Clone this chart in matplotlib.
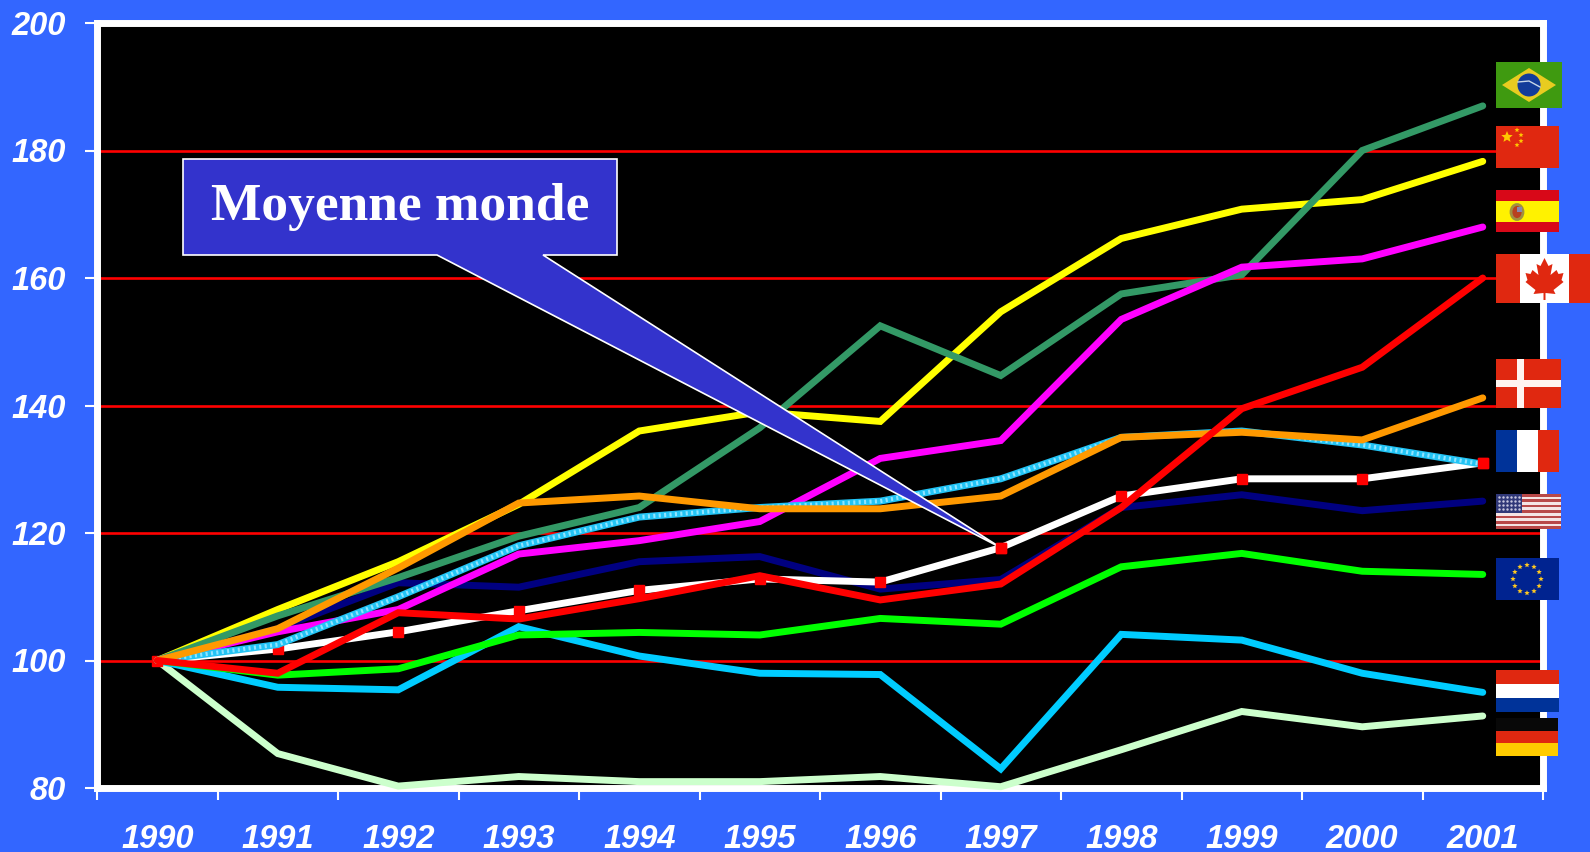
import numpy as np
import matplotlib
matplotlib.use("Agg")
import matplotlib.pyplot as plt
from matplotlib.patches import Circle, Ellipse, Polygon, Rectangle

years = ["1990", "1991", "1992", "1993", "1994", "1995", "1996", "1997", "1998", "1999", "2000", "2001"]
y_ticks = [80, 100, 120, 140, 160, 180, 200]

brazil = [100, 107, 113, 119.5, 124, 136.5, 152.5, 144.7, 157.5, 160.5, 180, 187]
china = [100, 108, 115.5, 124.5, 136, 139, 137.5, 154.7, 166.2, 170.8, 172.3, 178.3]
spain = [100, 104.5, 108, 116.7, 118.8, 121.8, 131.7, 134.5, 153.5, 161.7, 163, 168]
canada = [100, 98, 107.5, 106.5, 109.7, 113.3, 109.5, 112, 124, 139.5, 146, 160]
denmark = [100, 105, 114.5, 124.7, 125.8, 123.8, 123.8, 125.8, 135, 135.8, 134.6, 141.2]
france = [100, 102.5, 110, 118, 122.5, 124, 125, 128.5, 135, 136, 133.8, 130.8]
world = [100, 101.8, 104.5, 107.8, 111, 112.8, 112.3, 117.7, 125.8, 128.5, 128.5, 131]
usa = [100, 105, 112.2, 111.5, 115.5, 116.3, 111.2, 112.7, 124, 126, 123.5, 125]
europe = [100, 97.7, 98.7, 104, 104.4, 104, 106.6, 105.7, 114.7, 116.8, 114, 113.5]
netherlands = [100, 95.8, 95.4, 105.3, 100.7, 98, 97.8, 83, 104.1, 103.2, 98, 95]
germany = [100, 85.4, 80.3, 81.8, 81, 81, 81.8, 80.2, 86, 92, 89.6, 91.3]

BLUE = "#3366ff"
FLAG_RED = "#e02810"
W, H = 1590, 852

plt.rcParams["font.family"] = ["Liberation Sans", "DejaVu Sans"]

fig = plt.figure(figsize=(W / 100, H / 100), dpi=100, facecolor=BLUE)
ax = fig.add_axes([97 / W, (H - 788) / H, (1543 - 97) / W, (788 - 23) / H], facecolor="black")
x = np.arange(len(years))

for v in y_ticks[1:-1]:
    ax.axhline(v, color="#ff0000", lw=1.9, zorder=1)


def draw(values, color, z):
    ax.plot(x, values, color=color, lw=5, solid_capstyle="round", solid_joinstyle="miter",
            clip_on=False, zorder=z)


draw(germany, "#ccffcc", 3)
draw(netherlands, "#00ccff", 3.1)
draw(europe, "#00ff00", 3.2)
draw(usa, "#000080", 3.3)
draw(world, "#ffffff", 3.4)
ax.plot(x, world, ls="none", marker="s", ms=7, color="#ff0000", clip_on=False, zorder=3.45)
draw(china, "#ffff00", 3.5)
draw(brazil, "#339966", 3.9)
draw(spain, "#ff00ff", 4)
draw(france, "#22c4f5", 4.1)
ax.plot(x, france, color="#8fe4ff", lw=3, ls=(0, (0.5, 0.8)), clip_on=False, zorder=4.15)
draw(denmark, "#ff9900", 4.2)
ax.plot(x[-1:], world[-1:], ls="none", marker="s", ms=7, color="#ff0000", clip_on=False, zorder=4.3)
draw(canada, "#ff0000", 4.4)

ax.set_xlim(-0.5, 11.5)
ax.set_ylim(80, 200)
ax.set_xticks(np.arange(-0.5, 12, 1))
ax.set_xticklabels([])
ax.set_xticks(x, minor=True)
ax.set_xticklabels(years, minor=True, fontsize=23.5, fontweight="bold", style="italic", color="white")
ax.set_yticks(y_ticks)
ax.set_yticklabels(y_ticks, fontsize=23.5, fontweight="bold", style="italic", color="white")
ax.tick_params(axis="x", which="major", length=8.5, width=1.5, color="white")
ax.tick_params(axis="x", which="minor", length=0, pad=26)
ax.tick_params(axis="y", length=8.5, width=1.5, color="white", pad=14)
for s in ax.spines.values():
    s.set_color("white")
    s.set_linewidth(5)

# overlay in pixel coordinates for the callout and the flags
ov = fig.add_axes([0, 0, 1, 1], facecolor="none")
ov.set_xlim(0, W)
ov.set_ylim(H, 0)
ov.axis("off")

# callout tip sits on the world line, 1997
tip = ax.transData.transform((x[7], world[7]))
tip = (tip[0], H - tip[1])
ov.add_patch(Polygon([(183, 159), (617, 159), (617, 255), (543, 255), tip, (437, 255), (183, 255)],
                     closed=True, facecolor="#3333cc", edgecolor="white", lw=1.2, joinstyle="miter"))
ov.plot(*tip, "s", ms=7, color="#ff0000")
ov.text(400, 207, "Moyenne monde", family=["Liberation Serif"], fontweight="bold", fontsize=38.5,
        color="white", ha="center", va="center")


def rect(x0, y0, x1, y1, color):
    ov.add_patch(Rectangle((x0, y0), x1 - x0, y1 - y0, facecolor=color, edgecolor="none"))


def star(cx, cy, r, color):
    ang = np.deg2rad(np.arange(10) * 36 - 90)
    rad = np.where(np.arange(10) % 2 == 0, r, r * 0.45)
    ov.add_patch(Polygon(np.c_[cx + rad * np.cos(ang), cy + rad * np.sin(ang)], facecolor=color, edgecolor="none"))


def h_bands(x0, y0, x1, y1, colors):
    ys = np.linspace(y0, y1, len(colors) + 1)
    for c, a, b in zip(colors, ys[:-1], ys[1:]):
        rect(x0, a, x1, b, c)


# Brazil
rect(1496, 62, 1562, 108, "#3f9a10")
ov.add_patch(Polygon([(1502, 85), (1529, 68), (1556, 85), (1529, 102)], facecolor="#e8cc20", edgecolor="none"))
ov.add_patch(Circle((1529, 85), 11.5, facecolor="#123c9a", edgecolor="none"))
ov.plot([1518, 1529, 1540], [82, 81, 87], color="#c8d8e8", lw=1)

# China
rect(1496, 126, 1559, 168, FLAG_RED)
star(1507, 137, 6, "#ffc800")
for sx, sy in [(1517, 130), (1521, 135), (1521, 141), (1517, 145)]:
    star(sx, sy, 2.6, "#ffc800")

# Spain
h_bands(1496, 190, 1559, 232, ["#d80818", "#fff200", "#fff200", "#d80818"])
ov.add_patch(Ellipse((1517, 212), 12, 15, facecolor="#b84020", edgecolor="#a09040", lw=2))
rect(1517, 207, 1522, 212, "#8888b0")

# Canada
rect(1496, 254, 1590, 303, FLAG_RED)
rect(1520, 254, 1569, 303, "white")
leaf = np.array([(0, -20), (4, -12), (8, -14), (6, -3), (12, -8), (14, -4), (19, -5), (17, 2), (19, 4),
                 (9, 12), (11, 16), (1, 15), (1, 22), (-1, 22), (-1, 15), (-11, 16), (-9, 12), (-19, 4),
                 (-17, 2), (-19, -5), (-14, -4), (-12, -8), (-6, -3), (-8, -14), (-4, -12)])
ov.add_patch(Polygon(leaf + (1544.5, 278), facecolor=FLAG_RED, edgecolor="none"))

# Denmark
rect(1496, 359, 1561, 408, FLAG_RED)
rect(1517, 359, 1524, 408, "#fff4f0")
rect(1496, 380, 1561, 387, "#fff4f0")

# France
rect(1496, 430, 1517, 472, "#003399")
rect(1517, 430, 1538, 472, "white")
rect(1538, 430, 1559, 472, FLAG_RED)

# USA
h_bands(1496, 494, 1561, 529, ["#b84848", "#f4e4e4"] * 6 + ["#b84848"])
rect(1496, 494, 1522, 513, "#303878")
for sx in np.arange(1499, 1522, 4):
    for sy in np.arange(497, 512, 4):
        ov.plot(sx, sy, ".", ms=1.5, color="#c8c8e0")

# Europe
rect(1496, 558, 1559, 600, "#002390")
for a in np.deg2rad(np.arange(12) * 30):
    star(1527 + 14 * np.cos(a), 579 + 14 * np.sin(a), 2.8, "#ffc820")

# Netherlands and Germany
h_bands(1496, 670, 1559, 712, [FLAG_RED, "white", "#003399"])
h_bands(1496, 718, 1558, 756, ["#080808", FLAG_RED, "#ffcc00"])

fig.savefig("out.png", dpi=100, facecolor=BLUE)
